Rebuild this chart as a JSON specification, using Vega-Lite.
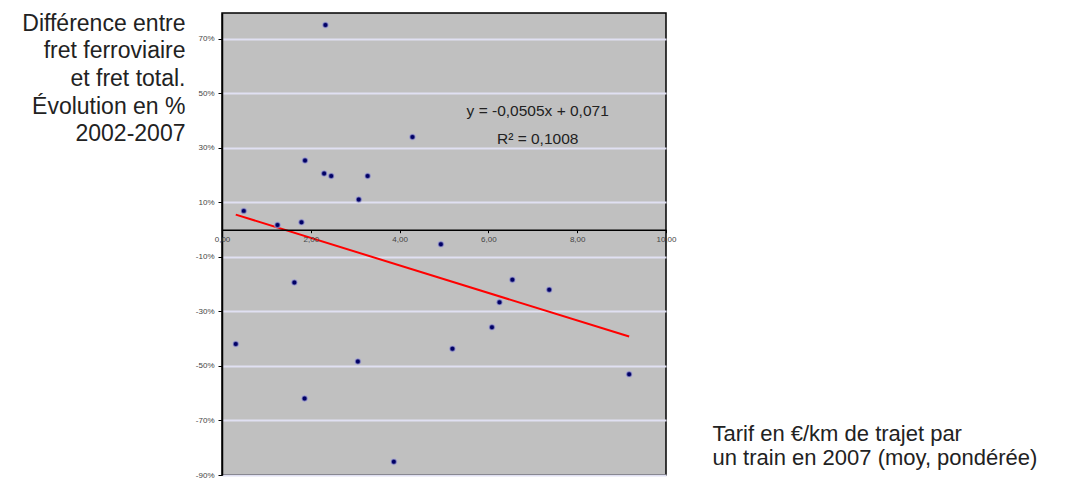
{
  "$schema": "https://vega.github.io/schema/vega-lite/v6.json",
  "width": 444,
  "height": 462,
  "autosize": {"type": "none"},
  "padding": {"left": 222, "top": 13, "right": 422, "bottom": 8},
  "background": "white",
  "config": {
    "font": "Liberation Sans",
    "locale": {"number": {"decimal": ",", "thousands": " ", "grouping": [3], "currency": ["", " €"], "minus": "-"}},
    "view": {"fill": "#c0c0c0", "stroke": "#000000", "strokeWidth": 1.5}
  },
  "data": {
    "values": [
      {"x": 2.33, "y": 0.751, "kind": "pt"},
      {"x": 4.29, "y": 0.340, "kind": "pt"},
      {"x": 1.87, "y": 0.254, "kind": "pt"},
      {"x": 2.30, "y": 0.206, "kind": "pt"},
      {"x": 2.46, "y": 0.197, "kind": "pt"},
      {"x": 3.28, "y": 0.197, "kind": "pt"},
      {"x": 3.08, "y": 0.111, "kind": "pt"},
      {"x": 0.49, "y": 0.069, "kind": "pt"},
      {"x": 1.79, "y": 0.027, "kind": "pt"},
      {"x": 1.25, "y": 0.017, "kind": "pt"},
      {"x": 4.93, "y": -0.053, "kind": "pt"},
      {"x": 6.54, "y": -0.184, "kind": "pt"},
      {"x": 7.37, "y": -0.220, "kind": "pt"},
      {"x": 6.25, "y": -0.266, "kind": "pt"},
      {"x": 6.08, "y": -0.358, "kind": "pt"},
      {"x": 5.19, "y": -0.437, "kind": "pt"},
      {"x": 9.17, "y": -0.530, "kind": "pt"},
      {"x": 1.63, "y": -0.194, "kind": "pt"},
      {"x": 0.31, "y": -0.419, "kind": "pt"},
      {"x": 3.06, "y": -0.484, "kind": "pt"},
      {"x": 1.86, "y": -0.619, "kind": "pt"},
      {"x": 3.87, "y": -0.851, "kind": "pt"},
      {"x": 0.31, "y": 0.0553, "kind": "fit"},
      {"x": 9.17, "y": -0.3921, "kind": "fit"},
      {"x": 7.11, "y": 0.435, "kind": "lbl", "label": "y = -0,0505x + 0,071"},
      {"x": 7.11, "y": 0.331, "kind": "lbl", "label": "R² = 0,1008"}
    ]
  },
  "encoding": {
    "x": {
      "field": "x", "type": "quantitative",
      "scale": {"domain": [0, 10], "nice": false, "zero": false},
      "axis": {
        "orient": "bottom", "offset": -245.3, "values": [0, 2, 4, 6, 8, 10], "format": ".2f",
        "grid": false, "domainColor": "#000000", "domainWidth": 1.5,
        "tickColor": "#000000", "tickSize": 3, "labelPadding": 3,
        "labelFontSize": 8, "labelColor": "#444444", "labelFlush": false, "labelOverlap": false, "labelBound": false,
        "title": ["Tarif en €/km de trajet par", "un train en 2007 (moy, pondérée)"],
        "titleX": 490, "titleY": 211, "titleAlign": "left", "titleBaseline": "alphabetic",
        "titleFontSize": 22, "titleFontWeight": "normal", "titleColor": "#222222", "titleLineHeight": 24,
        "zindex": 1
      }
    },
    "y": {
      "field": "y", "type": "quantitative",
      "scale": {"domain": [-0.9, 0.795], "nice": false, "zero": false},
      "axis": {
        "values": [-0.9, -0.7, -0.5, -0.3, -0.1, 0.1, 0.3, 0.5, 0.7], "format": ".0%",
        "grid": true, "gridColor": "#e0e0f2", "gridWidth": 2,
        "domainColor": "#000000", "domainWidth": 1.5,
        "tickColor": "#000000", "tickSize": 4, "labelPadding": 4,
        "labelFontSize": 8, "labelColor": "#444444", "labelOverlap": false, "labelBound": false,
        "title": ["Différence entre", "fret ferroviaire", "et fret total.", "Évolution en %", "2002-2007"],
        "titleAngle": 0, "titleX": -37, "titleY": 17, "titleAlign": "right", "titleBaseline": "alphabetic",
        "titleFontSize": 23, "titleFontWeight": "normal", "titleColor": "#222222", "titleLineHeight": 27.7
      }
    }
  },
  "layer": [
    {
      "transform": [{"filter": "datum.kind === 'fit'"}],
      "mark": {"type": "line", "color": "#ff0000", "strokeWidth": 2}
    },
    {
      "transform": [{"filter": "datum.kind === 'pt'"}],
      "mark": {"type": "point", "filled": true, "color": "#000066", "size": 30, "opacity": 1, "stroke": "#a8a8d8", "strokeWidth": 1.5, "strokeOpacity": 0.6}
    },
    {
      "transform": [{"filter": "datum.kind === 'lbl'"}],
      "mark": {"type": "text", "fontSize": 15.5, "color": "#222222", "align": "center", "baseline": "middle"},
      "encoding": {"text": {"field": "label", "type": "nominal"}}
    }
  ]
}
